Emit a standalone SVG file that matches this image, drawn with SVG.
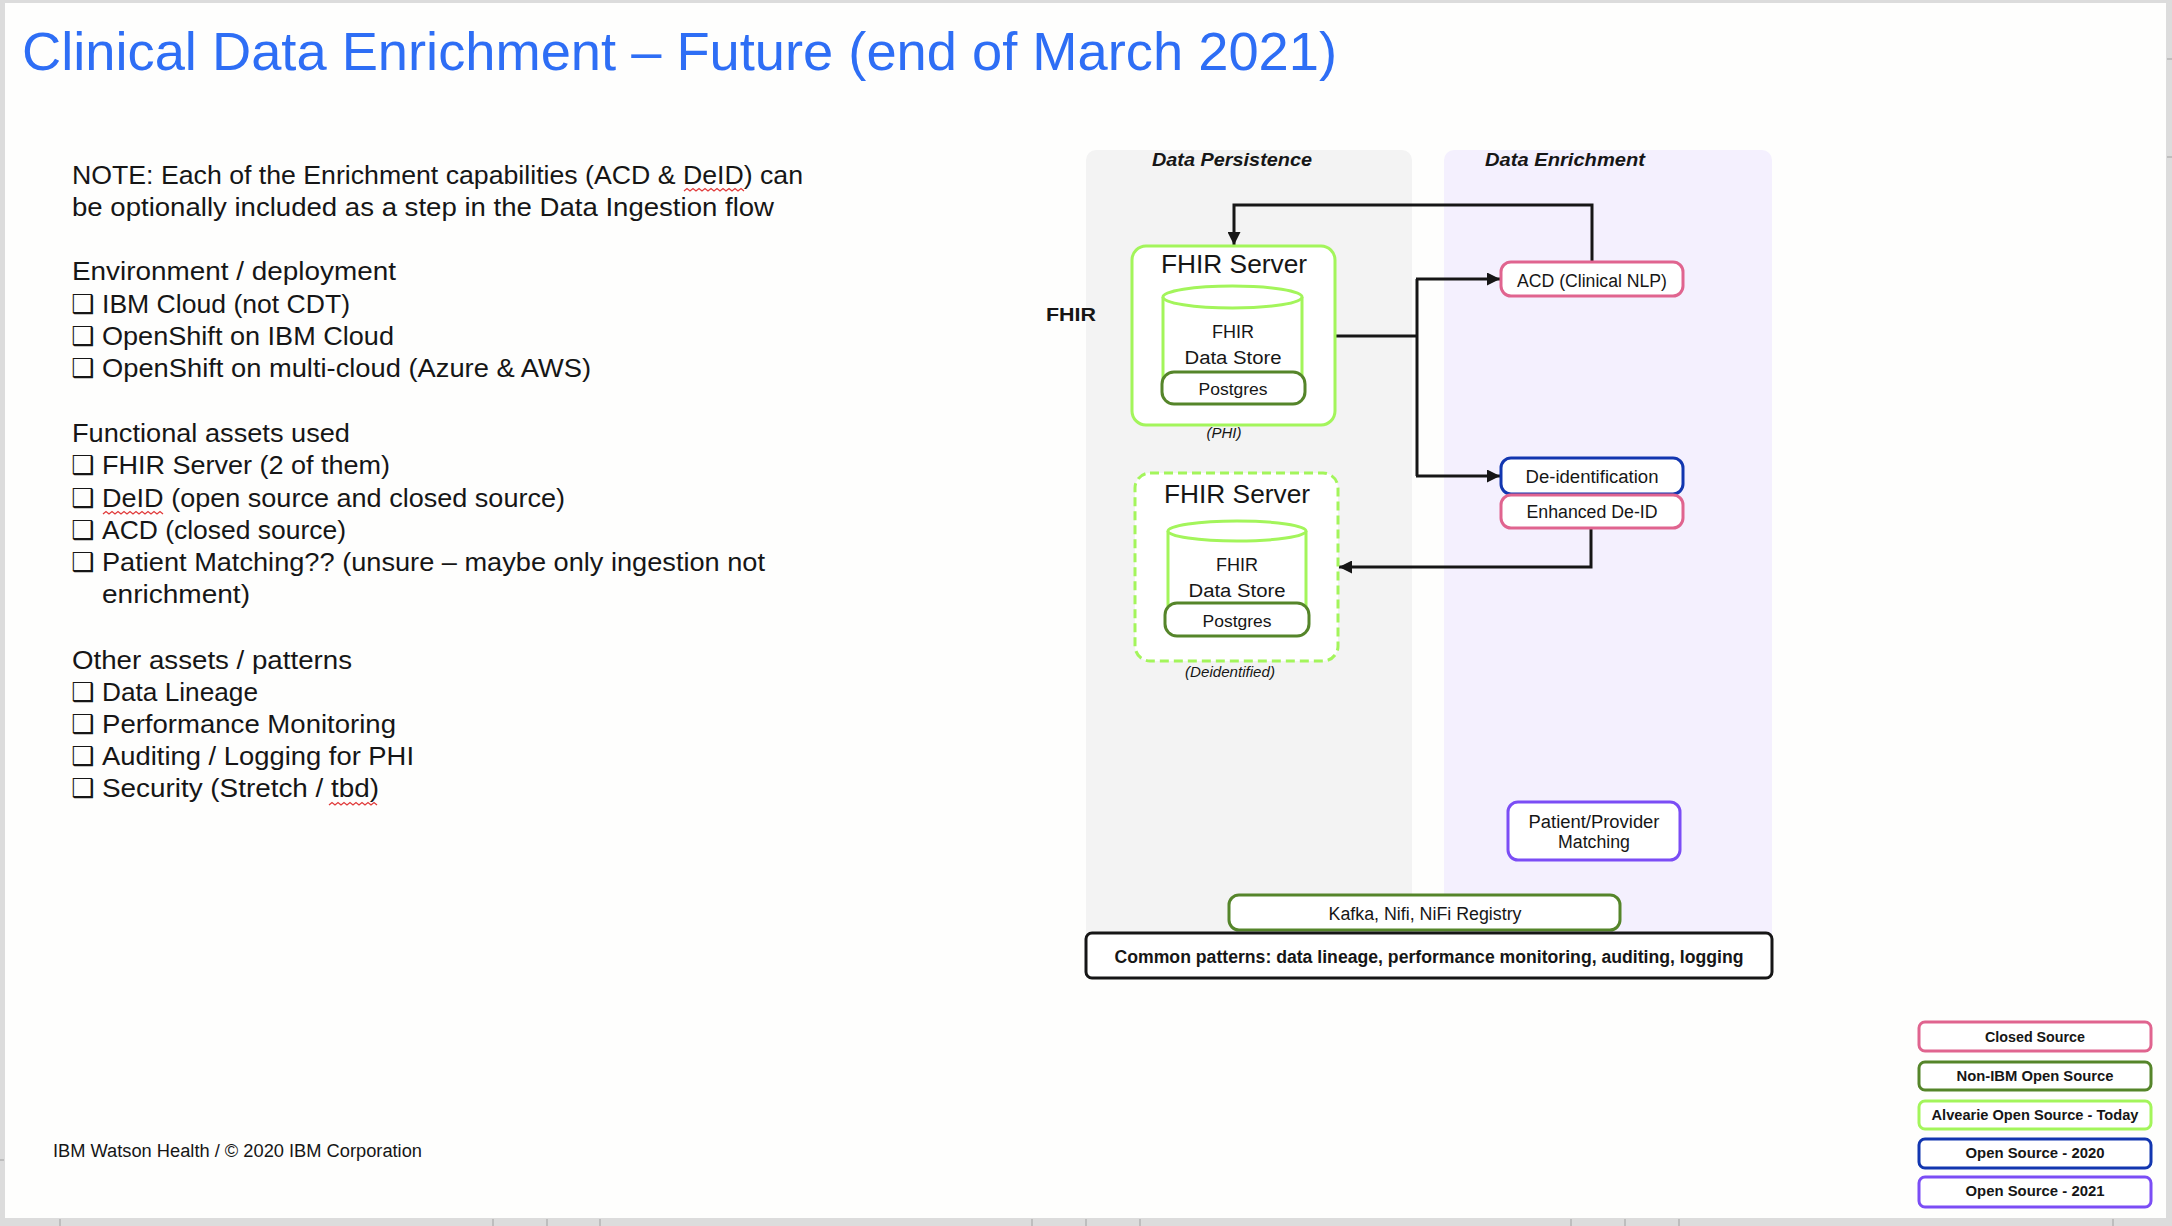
<svg xmlns="http://www.w3.org/2000/svg" width="2172" height="1226" viewBox="0 0 2172 1226">
<style>
text{font-family:"Liberation Sans",Arial,sans-serif;fill:#161616}
.lt{font-size:26px}
.bul{font-family:"DejaVu Sans",sans-serif;font-size:26px;font-weight:bold}
.c{text-anchor:middle}
.box{fill:#fff;stroke-width:3}
.pink{stroke:#e0648f}
.dg{stroke:#55852a}
.lg{stroke:#a3f55b}
.blue{stroke:#1236b0}
.purp{stroke:#7b4df5}
.blk{stroke:#161616}
.conn{fill:none;stroke:#161616;stroke-width:3}
.sq{fill:none;stroke:#e03a3a;stroke-width:1.3}
.tick{stroke:#b4b4b4;stroke-width:1.5}
.lab{font-size:18px}
.leg{font-size:15px;font-weight:bold}
</style>
<defs>
<marker id="ah" viewBox="0 0 10 10" refX="10" refY="5" markerWidth="14" markerHeight="13" markerUnits="userSpaceOnUse" orient="auto">
<path d="M0,0L10,5L0,10z" fill="#161616"/>
</marker>
</defs>

<!-- page frame -->
<rect x="0" y="0" width="2172" height="1226" fill="#dcdcdc"/>
<rect x="5" y="3" width="2161" height="1215" fill="#fefefd"/>
<g id="ticks">
<line class="tick" x1="60" y1="1219" x2="60" y2="1226"/>
<line class="tick" x1="493" y1="1219" x2="493" y2="1226"/>
<line class="tick" x1="547" y1="1219" x2="547" y2="1226"/>
<line class="tick" x1="600" y1="1219" x2="600" y2="1226"/>
<line class="tick" x1="1032" y1="1219" x2="1032" y2="1226"/>
<line class="tick" x1="1086" y1="1219" x2="1086" y2="1226"/>
<line class="tick" x1="1140" y1="1219" x2="1140" y2="1226"/>
<line class="tick" x1="1571" y1="1219" x2="1571" y2="1226"/>
<line class="tick" x1="1625" y1="1219" x2="1625" y2="1226"/>
<line class="tick" x1="1679" y1="1219" x2="1679" y2="1226"/>
<line class="tick" x1="2113" y1="1219" x2="2113" y2="1226"/>
<line class="tick" x1="2167" y1="59" x2="2172" y2="59"/>
<line class="tick" x1="2167" y1="157" x2="2172" y2="157"/>
<line class="tick" x1="0" y1="1160" x2="4" y2="1160"/>
</g>

<!-- title -->
<text id="title" x="22" y="70" font-size="54" style="fill:#2e6ef5" textLength="1315" lengthAdjust="spacingAndGlyphs">Clinical Data Enrichment – Future (end of March 2021)</text>

<!-- left notes -->
<g id="notes">
<text class="lt" x="72" y="184" textLength="731" lengthAdjust="spacingAndGlyphs">NOTE: Each of the Enrichment capabilities (ACD &amp; DeID) can</text>
<text class="lt" x="72" y="216" textLength="702" lengthAdjust="spacingAndGlyphs">be optionally included as a step in the Data Ingestion flow</text>
<text class="lt" x="72" y="280" textLength="324" lengthAdjust="spacingAndGlyphs">Environment / deployment</text>
<text class="bul" x="71" y="313">❑</text><text class="lt" x="102" y="313" textLength="248" lengthAdjust="spacingAndGlyphs">IBM Cloud (not CDT)</text>
<text class="bul" x="71" y="345">❑</text><text class="lt" x="102" y="345" textLength="292" lengthAdjust="spacingAndGlyphs">OpenShift on IBM Cloud</text>
<text class="bul" x="71" y="377">❑</text><text class="lt" x="102" y="377" textLength="489" lengthAdjust="spacingAndGlyphs">OpenShift on multi-cloud (Azure &amp; AWS)</text>
<text class="lt" x="72" y="442" textLength="278" lengthAdjust="spacingAndGlyphs">Functional assets used</text>
<text class="bul" x="71" y="474">❑</text><text class="lt" x="102" y="474" textLength="288" lengthAdjust="spacingAndGlyphs">FHIR Server (2 of them)</text>
<text class="bul" x="71" y="507">❑</text><text class="lt" x="102" y="507" textLength="463" lengthAdjust="spacingAndGlyphs">DeID (open source and closed source)</text>
<text class="bul" x="71" y="539">❑</text><text class="lt" x="102" y="539" textLength="244" lengthAdjust="spacingAndGlyphs">ACD (closed source)</text>
<text class="bul" x="71" y="571">❑</text><text class="lt" x="102" y="571" textLength="663" lengthAdjust="spacingAndGlyphs">Patient Matching?? (unsure – maybe only ingestion not</text>
<text class="lt" x="102" y="603" textLength="148" lengthAdjust="spacingAndGlyphs">enrichment)</text>
<text class="lt" x="72" y="669" textLength="280" lengthAdjust="spacingAndGlyphs">Other assets / patterns</text>
<text class="bul" x="71" y="701">❑</text><text class="lt" x="102" y="701" textLength="156" lengthAdjust="spacingAndGlyphs">Data Lineage</text>
<text class="bul" x="71" y="733">❑</text><text class="lt" x="102" y="733" textLength="294" lengthAdjust="spacingAndGlyphs">Performance Monitoring</text>
<text class="bul" x="71" y="765">❑</text><text class="lt" x="102" y="765" textLength="312" lengthAdjust="spacingAndGlyphs">Auditing / Logging for PHI</text>
<text class="bul" x="71" y="797">❑</text><text class="lt" x="102" y="797" textLength="277" lengthAdjust="spacingAndGlyphs">Security (Stretch / tbd)</text>
</g>
<g id="spellmarks">
<path class="sq" d="M684,191 l3,-2.5 l3,2.5 l3,-2.5 l3,2.5 l3,-2.5 l3,2.5 l3,-2.5 l3,2.5 l3,-2.5 l3,2.5 l3,-2.5 l3,2.5 l3,-2.5 l3,2.5 l3,-2.5 l3,2.5 l3,-2.5 l3,2.5 l3,-2.5 l3,2.5"/>
<path class="sq" d="M103,514 l3,-2.5 l3,2.5 l3,-2.5 l3,2.5 l3,-2.5 l3,2.5 l3,-2.5 l3,2.5 l3,-2.5 l3,2.5 l3,-2.5 l3,2.5 l3,-2.5 l3,2.5 l3,-2.5 l3,2.5 l3,-2.5 l3,2.5 l3,-2.5 l3,2.5"/>
<path class="sq" d="M329,805 l3,-2.5 l3,2.5 l3,-2.5 l3,2.5 l3,-2.5 l3,2.5 l3,-2.5 l3,2.5 l3,-2.5 l3,2.5 l3,-2.5 l3,2.5 l3,-2.5 l3,2.5 l3,-2.5 l3,2.5"/>
<path class="sq" d="M1420,927 l3,-2.5 l3,2.5 l3,-2.5 l3,2.5 l3,-2.5 l3,2.5 l3,-2.5 l3,2.5 l3,-2.5 l3,2.5"/>
</g>

<text id="footer" x="53" y="1157" font-size="18" textLength="369" lengthAdjust="spacingAndGlyphs">IBM Watson Health / © 2020 IBM Corporation</text>

<!-- swimlanes -->
<g id="lane-persistence">
<rect x="1086" y="150" width="326" height="795" rx="10" fill="#f3f3f3"/>
<text class="c" x="1232" y="166" font-size="18" font-weight="bold" font-style="italic" textLength="160" lengthAdjust="spacingAndGlyphs">Data Persistence</text>
</g>
<g id="lane-enrichment">
<rect x="1444" y="150" width="328" height="795" rx="10" fill="#f4f0fe"/>
<text class="c" x="1565" y="166" font-size="18" font-weight="bold" font-style="italic" textLength="160" lengthAdjust="spacingAndGlyphs">Data Enrichment</text>
</g>
<text id="fhir-label" x="1046" y="321" font-size="18" font-weight="bold" textLength="50" lengthAdjust="spacingAndGlyphs">FHIR</text>

<!-- connectors -->
<g id="connectors">
<path class="conn" d="M1592,262 V205 H1234 V245" marker-end="url(#ah)"/>
<path class="conn" d="M1335,336 H1417 M1417,279 V476"/>
<path class="conn" d="M1416,279 H1500" marker-end="url(#ah)"/>
<path class="conn" d="M1416,476 H1500" marker-end="url(#ah)"/>
<path class="conn" d="M1591,528 V567 H1339" marker-end="url(#ah)"/>
</g>

<!-- FHIR server 1 -->
<g id="fhir-server-phi">
<rect class="box lg" x="1132" y="246" width="203" height="179" rx="14"/>
<text class="c" x="1234" y="273" font-size="26" textLength="146" lengthAdjust="spacingAndGlyphs">FHIR Server</text>
<path class="box lg" d="M1163,297 V388 H1302 V297"/>
<ellipse class="box lg" cx="1232.5" cy="297" rx="69.5" ry="11"/>
<text class="c lab" x="1233" y="338">FHIR</text>
<text class="c lab" x="1233" y="364" textLength="97" lengthAdjust="spacingAndGlyphs">Data Store</text>
<rect class="box dg" x="1162" y="372" width="143" height="32" rx="12"/>
<text class="c" x="1233" y="395" font-size="17" textLength="69" lengthAdjust="spacingAndGlyphs">Postgres</text>
<text class="c" x="1224" y="438" font-size="15" font-style="italic">(PHI)</text>
</g>

<!-- FHIR server 2 -->
<g id="fhir-server-deid">
<rect class="box lg" x="1135" y="473" width="203" height="188" rx="15" stroke-dasharray="9 5"/>
<text class="c" x="1237" y="503" font-size="26" textLength="146" lengthAdjust="spacingAndGlyphs">FHIR Server</text>
<path class="box lg" d="M1168,531 V618 H1306 V531"/>
<ellipse class="box lg" cx="1237" cy="531" rx="69" ry="10"/>
<text class="c lab" x="1237" y="571">FHIR</text>
<text class="c lab" x="1237" y="597" textLength="97" lengthAdjust="spacingAndGlyphs">Data Store</text>
<rect class="box dg" x="1165" y="603" width="144" height="33" rx="12"/>
<text class="c" x="1237" y="627" font-size="17" textLength="69" lengthAdjust="spacingAndGlyphs">Postgres</text>
<text class="c" x="1230" y="677" font-size="15" font-style="italic" textLength="90" lengthAdjust="spacingAndGlyphs">(Deidentified)</text>
</g>

<g id="acd">
<rect class="box pink" x="1501" y="262" width="182" height="34" rx="10"/>
<text class="c lab" x="1592" y="287" textLength="150" lengthAdjust="spacingAndGlyphs">ACD  (Clinical NLP)</text>
</g>
<g id="deid">
<rect class="box blue" x="1501" y="458" width="182" height="36" rx="10"/>
<text class="c lab" x="1592" y="483" textLength="133" lengthAdjust="spacingAndGlyphs">De-identification</text>
</g>
<g id="enhanced-deid">
<rect class="box pink" x="1501" y="495" width="182" height="33" rx="10"/>
<text class="c lab" x="1592" y="518" textLength="131" lengthAdjust="spacingAndGlyphs">Enhanced De-ID</text>
</g>
<g id="patient-matching">
<rect class="box purp" x="1508" y="802" width="172" height="58" rx="10"/>
<text class="c lab" x="1594" y="828" textLength="131" lengthAdjust="spacingAndGlyphs">Patient/Provider</text>
<text class="c lab" x="1594" y="848" textLength="72" lengthAdjust="spacingAndGlyphs">Matching</text>
</g>
<g id="kafka">
<rect class="box dg" x="1229" y="895" width="391" height="35" rx="10"/>
<text class="c lab" x="1425" y="920" textLength="193" lengthAdjust="spacingAndGlyphs">Kafka, Nifi, NiFi Registry</text>
</g>
<g id="common-patterns">
<rect class="box blk" x="1086" y="933" width="686" height="45" rx="6"/>
<text class="c" x="1429" y="963" font-size="18" font-weight="bold" textLength="629" lengthAdjust="spacingAndGlyphs">Common patterns: data lineage, performance monitoring, auditing, logging</text>
</g>

<!-- legend -->
<g id="legend">
<rect class="box pink" x="1919" y="1022" width="232" height="29" rx="6"/>
<text class="c leg" x="2035" y="1042" textLength="100" lengthAdjust="spacingAndGlyphs">Closed Source</text>
<rect class="box dg" x="1919" y="1062" width="232" height="28" rx="6"/>
<text class="c leg" x="2035" y="1081" textLength="157" lengthAdjust="spacingAndGlyphs">Non-IBM Open Source</text>
<rect class="box lg" x="1919" y="1101" width="232" height="28" rx="6"/>
<text class="c leg" x="2035" y="1120" textLength="207" lengthAdjust="spacingAndGlyphs">Alvearie Open Source - Today</text>
<rect class="box blue" x="1919" y="1139" width="232" height="29" rx="6"/>
<text class="c leg" x="2035" y="1158" textLength="139" lengthAdjust="spacingAndGlyphs">Open Source - 2020</text>
<rect class="box purp" x="1919" y="1177" width="232" height="30" rx="6"/>
<text class="c leg" x="2035" y="1196" textLength="139" lengthAdjust="spacingAndGlyphs">Open Source - 2021</text>
</g>
</svg>
